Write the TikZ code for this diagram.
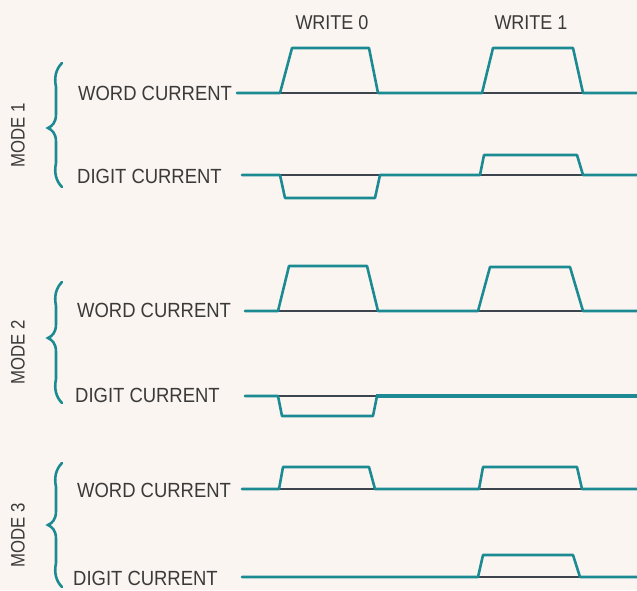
\documentclass[tikz,border=0pt]{standalone}
\usepackage{fontspec}
\setmainfont{Liberation Sans}
\definecolor{wave}{RGB}{28,138,146}
\definecolor{base}{RGB}{60,68,78}
\definecolor{paper}{RGB}{250,245,240}
\definecolor{ink}{RGB}{58,58,58}
\tikzset{
  lbl/.style={font=\fontsize{20.5}{20.5}\selectfont, text=ink, inner sep=0pt, anchor=west},
  toplbl/.style={font=\fontsize{20}{20}\selectfont, text=ink, inner sep=0pt},
  modelbl/.style={font=\fontsize{19.5}{19.5}\selectfont, text=ink, inner sep=0pt, rotate=90},
  wv/.style={draw=wave, line width=2.6pt, line join=round, line cap=round},
  bl/.style={draw=base, line width=1.3pt},
  brc/.style={draw=wave, line width=2.6pt, line cap=round}
}
\newcommand{\nar}[1]{\scalebox{0.9}[1]{#1}}
\newcommand{\mnar}[1]{\scalebox{0.86}[1]{#1}}
\newcommand{\mybrace}[3]{%
  \draw[brc] (62,#1) .. controls (56,#1+6) and (54,#1+14) .. (56,#1+24) -- (56,#3-14)
    .. controls (56,#3-5) and (52,#3-2) .. (48,#3)
    .. controls (52,#3+2) and (56,#3+5) .. (56,#3+14) -- (56,#2-24)
    .. controls (54,#2-14) and (56,#2-6) .. (62,#2);}
\begin{document}
\begin{tikzpicture}[x=1pt,y=-1pt]
\fill[paper] (0,0) rectangle (637,590);
\useasboundingbox (0,0) rectangle (637,590);

% top labels
\node[toplbl] (w0) at (332,23) {\nar{WRITE 0}};
\node[toplbl] (w1) at (531,23) {\nar{WRITE 1}};

% ---------- MODE 1 ----------
\node[modelbl] (m1) at (18,135) {\mnar{MODE 1}};
\mybrace{63}{187}{128}
\node[lbl] (m1w) at (78,93) {\nar{WORD CURRENT}};
\node[lbl] (m1d) at (77,176) {\nar{DIGIT CURRENT}};
\draw[bl] (280,93) -- (378,93) (482,93) -- (583,93);
\draw[wv] (237,93) -- (280,93) -- (292,48) -- (369,48) -- (378,93) -- (482,93)
  -- (493,48) -- (573,48) -- (583,93) -- (637,93);
\draw[bl] (280,175) -- (380,175) (480,175) -- (583,175);
\draw[wv] (242,175) -- (280,175) -- (285,198) -- (375,198) -- (380,175) -- (480,175)
  -- (484,155) -- (577,155) -- (583,175) -- (637,175);

% ---------- MODE 2 ----------
\node[modelbl] (m2) at (18,352) {\mnar{MODE 2}};
\mybrace{282}{403}{338}
\node[lbl] (m2w) at (77,310) {\nar{WORD CURRENT}};
\node[lbl] (m2d) at (75,395) {\nar{DIGIT CURRENT}};
\draw[bl] (278,311) -- (378,311) (478,311) -- (583,311);
\draw[wv] (245,311) -- (278,311) -- (289,266) -- (367,266) -- (378,311) -- (478,311)
  -- (490,267) -- (570,267) -- (583,311) -- (637,311);
\draw[bl] (278,396) -- (377,396);
\draw[wv] (245,396) -- (278,396) -- (282,416) -- (373,416) -- (377,396);
\draw[wv, line width=4.2pt, line cap=butt] (376,396) -- (637,396);

% ---------- MODE 3 ----------
\node[modelbl] (m3) at (18,535) {\mnar{MODE 3}};
\mybrace{463}{587}{525}
\node[lbl] (m3w) at (77,490) {\nar{WORD CURRENT}};
\node[lbl] (m3d) at (73,578) {\nar{DIGIT CURRENT}};
\draw[bl] (279,489) -- (375,489) (479,489) -- (582,489);
\draw[wv] (242,489) -- (279,489) -- (283,467) -- (369,467) -- (375,489) -- (479,489)
  -- (483,467) -- (577,467) -- (582,489) -- (637,489);
\draw[bl] (478,577) -- (580,577);
\draw[wv] (242,577) -- (478,577) -- (483,555) -- (573,555) -- (580,577) -- (637,577);
\end{tikzpicture}
\end{document}
